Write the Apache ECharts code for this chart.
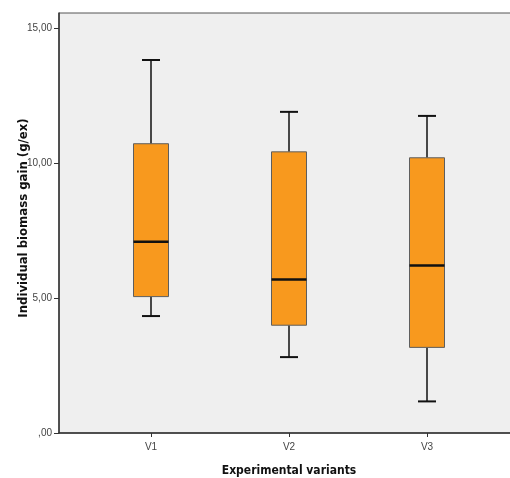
<!DOCTYPE html>
<html>
<head>
<meta charset="utf-8">
<script src="https://cdn.jsdelivr.net/npm/echarts@6/dist/echarts.min.js"></script>
<style>
  html, body { margin: 0; padding: 0; background: #ffffff; }
  #chart { width: 510px; height: 478px; }
</style>
</head>
<body>
<div id="chart"></div>
<script>
// Experimental variants and their position on the x scale
var categories = ['V1', 'V2', 'V3'];
var categoryPos = [2, 5, 8];

// Five-number summaries per variant (g/ex)
var whiskerLow  = [4.33, 2.81, 1.17];
var quartile1   = [5.05, 3.99, 3.17];
var medians     = [7.08, 5.68, 6.20];
var quartile3   = [10.71, 10.41, 10.19];
var whiskerHigh = [13.81, 11.89, 11.74];

// Y tick values
var yTicks = [0, 5, 10, 15];

var boxData = categories.map(function (c, i) {
  return [categoryPos[i], whiskerLow[i], quartile1[i], medians[i], quartile3[i], whiskerHigh[i]];
});

function fmtY(v) {
  var s = v.toFixed(2).replace('.', ',');
  return v === 0 ? s.replace(/^0/, '') : s;
}

var chart = echarts.init(document.getElementById('chart'), null, { renderer: 'canvas' });

chart.setOption({
  animation: false,
  backgroundColor: '#ffffff',
  grid: {
    left: 59, top: 13, right: -9, bottom: 45,
    outerBoundsMode: 'none',
    containLabel: false,
    show: true,
    backgroundColor: '#efefef',
    borderColor: '#555555',
    borderWidth: 1
  },
  xAxis: {
    type: 'value',
    min: 0, max: 10,
    name: 'Experimental variants',
    nameLocation: 'middle',
    nameGap: 32,
    nameMoveOverlap: false,
    nameTextStyle: { fontFamily: 'DejaVu Sans Condensed', fontWeight: 'bold', fontSize: 12, color: '#111' },
    axisLine: { show: true, lineStyle: { color: '#333', width: 1.5 } },
    axisTick: { show: true, length: 4, customValues: categoryPos, lineStyle: { color: '#333' } },
    axisLabel: {
      customValues: categoryPos,
      margin: 9,
      fontFamily: 'Liberation Sans', fontSize: 10, color: '#444',
      formatter: function (v) {
        var k = categoryPos.indexOf(v);
        return k >= 0 ? categories[k] : '';
      }
    },
    splitLine: { show: false }
  },
  yAxis: {
    type: 'value',
    min: 0, max: 15.55,
    name: 'Individual biomass gain (g/ex)',
    nameLocation: 'middle',
    nameGap: 29,
    nameMoveOverlap: false,
    nameTextStyle: { fontFamily: 'DejaVu Sans Condensed', fontWeight: 'bold', fontSize: 13, color: '#111', padding: [0, 0, 0, 10] },
    axisLine: { show: true, lineStyle: { color: '#333', width: 1.5 } },
    axisTick: { show: true, length: 5, customValues: yTicks, lineStyle: { color: '#333' } },
    axisLabel: {
      customValues: yTicks,
      margin: 7,
      fontFamily: 'Liberation Sans', fontSize: 10, color: '#444',
      formatter: fmtY
    },
    splitLine: { show: false }
  },
  series: [{
    type: 'custom',
    data: boxData,
    encode: { x: 0, y: [1, 2, 3, 4, 5] },
    clip: false,
    renderItem: function (params, api) {
      var x = api.value(0);
      var pLow = api.coord([x, api.value(1)]);
      var pQ1 = api.coord([x, api.value(2)]);
      var pMed = api.coord([x, api.value(3)]);
      var pQ3 = api.coord([x, api.value(4)]);
      var pHigh = api.coord([x, api.value(5)]);
      var cx = pMed[0];
      var halfBox = 17.5;
      var halfCap = 9;
      var black = '#111111';
      return {
        type: 'group',
        children: [
          { type: 'line', shape: { x1: cx, y1: pQ3[1], x2: cx, y2: pHigh[1] }, style: { stroke: black, lineWidth: 1.5 } },
          { type: 'line', shape: { x1: cx, y1: pQ1[1], x2: cx, y2: pLow[1] }, style: { stroke: black, lineWidth: 1.5 } },
          { type: 'line', shape: { x1: cx - halfCap, y1: pHigh[1], x2: cx + halfCap, y2: pHigh[1] }, style: { stroke: black, lineWidth: 2 } },
          { type: 'line', shape: { x1: cx - halfCap, y1: pLow[1], x2: cx + halfCap, y2: pLow[1] }, style: { stroke: black, lineWidth: 2 } },
          { type: 'rect', shape: { x: cx - halfBox, y: pQ3[1], width: halfBox * 2, height: pQ1[1] - pQ3[1] },
            style: { fill: '#f8991e', stroke: '#5e5e5e', lineWidth: 1 } },
          { type: 'line', shape: { x1: cx - halfBox, y1: pMed[1], x2: cx + halfBox, y2: pMed[1] }, style: { stroke: black, lineWidth: 2.5 } }
        ]
      };
    }
  }]
});
</script>
</body>
</html>
